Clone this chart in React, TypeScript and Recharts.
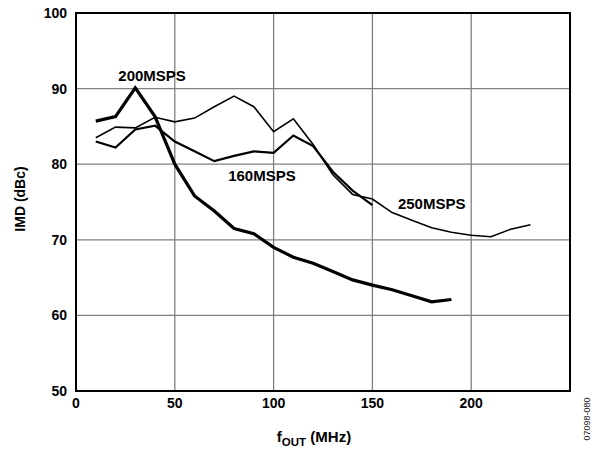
import React from "react";
import {
  LineChart,
  Line,
  XAxis,
  YAxis,
  CartesianGrid,
  ReferenceArea,
  ReferenceDot,
  Label,
} from "recharts";

const freq200 = [10, 20, 30, 40, 50, 60, 70, 80, 90, 100, 110, 120, 130, 140, 150, 160, 170, 180, 190];
const imd200 = [85.7, 86.3, 90.1, 86.3, 80.0, 75.8, 73.8, 71.5, 70.8, 69.0, 67.7, 66.9, 65.8, 64.7, 64.0, 63.4, 62.6, 61.8, 62.1];

const freq160 = [10, 20, 30, 40, 50, 60, 70, 80, 90, 100, 110, 120, 130, 140, 150];
const imd160 = [83.0, 82.2, 84.6, 85.1, 83.0, 81.7, 80.4, 81.1, 81.7, 81.5, 83.8, 82.4, 79.0, 76.5, 74.6];

const freq250 = [10, 20, 30, 40, 50, 60, 70, 80, 90, 100, 110, 120, 130, 140, 150, 160, 170, 180, 190, 200, 210, 220, 230];
const imd250 = [83.5, 84.9, 84.8, 86.2, 85.6, 86.1, 87.6, 89.0, 87.6, 84.3, 86.0, 82.6, 78.6, 76.0, 75.4, 73.6, 72.6, 71.6, 71.0, 70.6, 70.4, 71.4, 72.0];

const xTicks = [0, 50, 100, 150, 200];
const yTicks = [50, 60, 70, 80, 90, 100];

const toPoints = (xs: number[], ys: number[]) => xs.map((f, i) => ({ f, imd: ys[i] }));

const FONT = "'Liberation Sans', Arial, sans-serif";
const tickStyle = { fill: "#000", fontSize: 14, fontWeight: 700, fontFamily: FONT };

// text labels placed next to each curve
const seriesLabels = [
  { name: "200MSPS", f: 38.5, imd: 91.7 },
  { name: "160MSPS", f: 94.1, imd: 78.5 },
  { name: "250MSPS", f: 180, imd: 74.8 },
];

export default function App() {
  return (
    <div style={{ position: "absolute", left: 0, top: 0, width: 606, height: 454, background: "#fff" }}>
      <LineChart width={606} height={454} margin={{ top: 13, right: 36, bottom: 0, left: 0 }}>
        <CartesianGrid stroke="#808080" strokeWidth={1.3} />
        <XAxis
          type="number"
          dataKey="f"
          domain={[0, 250]}
          ticks={xTicks}
          allowDataOverflow
          axisLine={false}
          tickLine={false}
          tickSize={0}
          tickMargin={7}
          height={63}
          tick={tickStyle}
        >
          <Label
            content={({ viewBox }: any) => (
              <text
                x={viewBox.x + viewBox.width / 2 - 9}
                y={viewBox.y + 51}
                textAnchor="middle"
                fontFamily={FONT}
                fontWeight={700}
                fontSize={15}
                fill="#000"
              >
                f
                <tspan fontSize={11.5} dy={4}>OUT</tspan>
                <tspan dy={-4}> (MHz)</tspan>
              </text>
            )}
          />
        </XAxis>
        <YAxis
          type="number"
          domain={[50, 100]}
          ticks={yTicks}
          allowDataOverflow
          axisLine={false}
          tickLine={false}
          tickSize={0}
          tickMargin={9}
          width={76}
          tick={tickStyle}
        >
          <Label
            content={() => (
              <text
                x={20}
                y={199}
                transform="rotate(-90, 20, 199)"
                textAnchor="middle"
                dominantBaseline="central"
                fontFamily={FONT}
                fontWeight={700}
                fontSize={14}
                fill="#000"
              >
                IMD (dBc)
              </text>
            )}
          />
        </YAxis>
        <ReferenceArea x1={0} x2={250} y1={50} y2={100} fill="none" stroke="#000" strokeWidth={2} ifOverflow="visible" />
        <Line
          data={toPoints(freq250, imd250)}
          dataKey="imd"
          stroke="#000"
          strokeWidth={1.6}
          dot={false}
          isAnimationActive={false}
        />
        <Line
          data={toPoints(freq160, imd160)}
          dataKey="imd"
          stroke="#000"
          strokeWidth={2.2}
          dot={false}
          isAnimationActive={false}
        />
        <Line
          data={toPoints(freq200, imd200)}
          dataKey="imd"
          stroke="#000"
          strokeWidth={3.2}
          dot={false}
          isAnimationActive={false}
        />
        {seriesLabels.map((s) => (
          <ReferenceDot
            key={s.name}
            x={s.f}
            y={s.imd}
            r={0}
            fill="none"
            stroke="none"
            label={{
              value: s.name,
              position: "center",
              fill: "#000",
              fontSize: 15,
              fontWeight: 700,
              fontFamily: FONT,
            }}
          />
        ))}
      </LineChart>
      <div
        style={{
          position: "absolute",
          left: 587,
          top: 419,
          transform: "translate(-50%, -50%) rotate(-90deg)",
          fontFamily: FONT,
          fontSize: 9,
          color: "#222",
          whiteSpace: "nowrap",
        }}
      >
        07098-080
      </div>
    </div>
  );
}
